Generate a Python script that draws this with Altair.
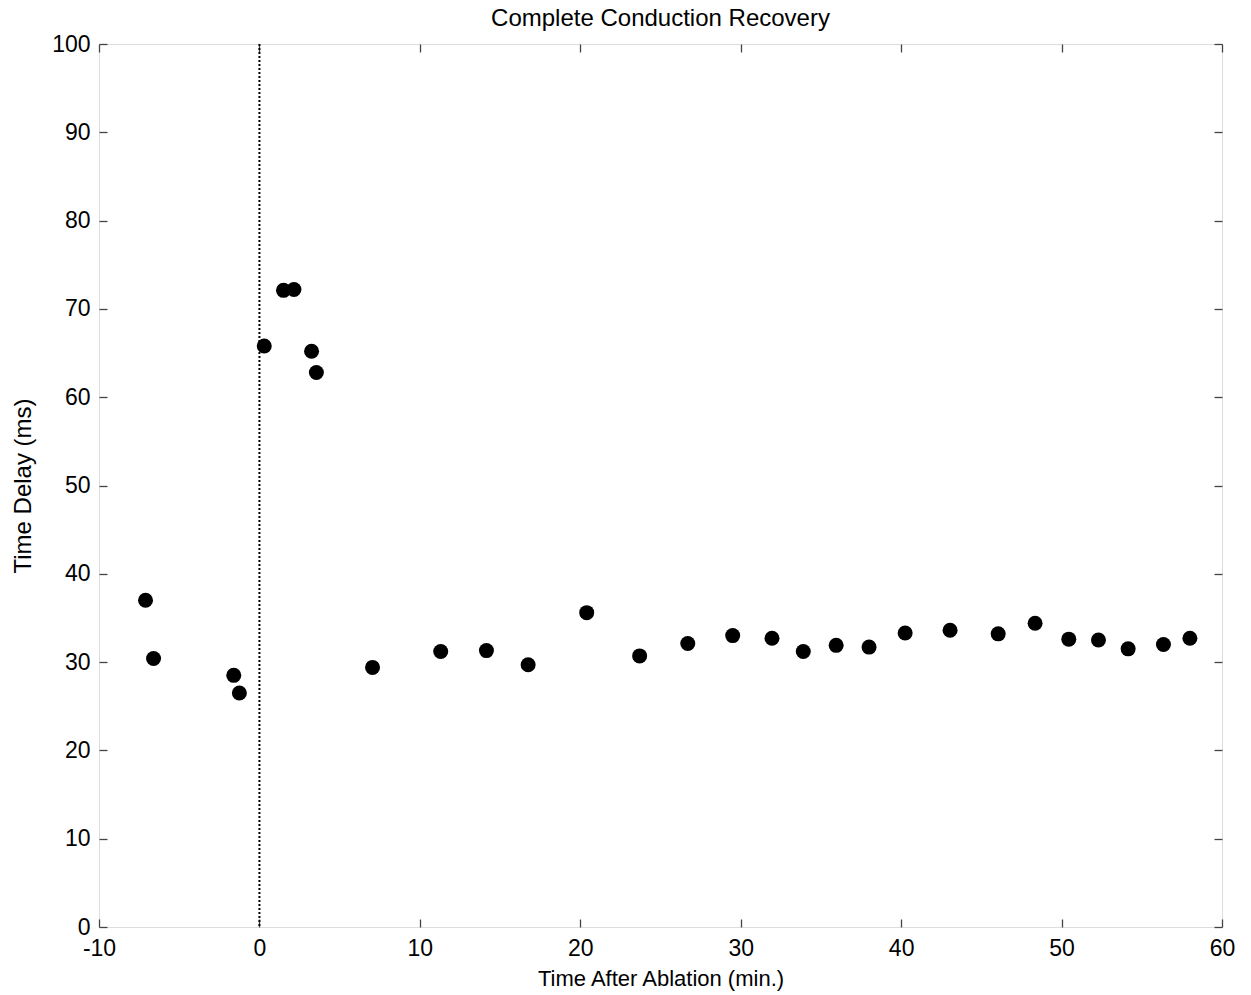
import altair as alt
import pandas as pd

time_min = [-7.1, -6.6, -1.6, -1.25, 0.3, 1.5, 2.15, 3.25, 3.55, 7.05, 11.3, 14.15, 16.75, 20.4,
            23.7, 26.7, 29.5, 31.95, 33.9, 35.95, 38.0, 40.25, 43.05, 46.05, 48.35, 50.45,
            52.3, 54.15, 56.35, 58.0]
delay_ms = [37.0, 30.4, 28.5, 26.5, 65.8, 72.1, 72.2, 65.2, 62.8, 29.4, 31.2, 31.3, 29.7, 35.6,
            30.7, 32.1, 33.0, 32.7, 31.2, 31.9, 31.7, 33.3, 33.6, 33.2, 34.4, 32.6,
            32.5, 31.5, 32.0, 32.7]
ablation_x = [0]
x_ticks = [-10, 0, 10, 20, 30, 40, 50, 60]
y_ticks = [0, 10, 20, 30, 40, 50, 60, 70, 80, 90, 100]

df = pd.DataFrame({"t": time_min, "d": delay_ms})
abl = pd.DataFrame({"x0": ablation_x})

FONT = "Liberation Sans"
xscale = alt.Scale(domain=[-10, 60], nice=False, zero=False)
yscale = alt.Scale(domain=[0, 100], nice=False, zero=False)

x_axis = alt.Axis(values=x_ticks, title="Time After Ablation (min.)", orient="bottom",
                  offset=-8, tickSize=8, domain=False, grid=False, labelPadding=10,
                  labelExpr="datum.value + ''",
                  tickColor="#444444", tickWidth=1.3, labelFont=FONT, labelFontSize=23,
                  labelColor="black", titleFont=FONT, titleFontSize=22, titleFontWeight="normal",
                  titleColor="black", titlePadding=8, labelFlush=False)
y_axis = alt.Axis(values=y_ticks, title="Time Delay (ms)", orient="left",
                  offset=-8, tickSize=8, domain=False, grid=False, labelPadding=9,
                  tickColor="#444444", tickWidth=1.3, labelFont=FONT, labelFontSize=23,
                  labelColor="black", titleFont=FONT, titleFontSize=24, titleFontWeight="normal",
                  titleColor="black", titlePadding=16, labelFlush=False)
x_axis_top = alt.Axis(values=x_ticks, title=None, orient="top", offset=-8, tickSize=8,
                      domain=False, grid=False, labels=False, tickColor="#444444", tickWidth=1.3)
y_axis_right = alt.Axis(values=y_ticks, title=None, orient="right", offset=-8, tickSize=8,
                        domain=False, grid=False, labels=False, tickColor="#444444", tickWidth=1.3)

points = alt.Chart(df).mark_circle(size=225, color="black", opacity=1).encode(
    x=alt.X("t:Q", scale=xscale, axis=x_axis),
    y=alt.Y("d:Q", scale=yscale, axis=y_axis),
)

ghost = alt.Chart(df).mark_circle(size=0, opacity=0).encode(
    x=alt.X("t:Q", scale=xscale, axis=x_axis_top),
    y=alt.Y("d:Q", scale=yscale, axis=y_axis_right),
)

vline = alt.Chart(abl).mark_rule(color="black", strokeDash=[2, 2], strokeWidth=2).encode(
    x=alt.X("x0:Q", scale=xscale, axis=None),
)

chart = alt.layer(vline, points, ghost).resolve_axis(x="independent", y="independent").properties(
    width=1123, height=883,
    title=alt.TitleParams("Complete Conduction Recovery", font=FONT, fontSize=24,
                          fontWeight="normal", color="black", offset=2),
    autosize=alt.AutoSizeParams(type="none"),
    padding={"left": 99, "top": 44, "right": 29, "bottom": 68},
).configure_view(stroke="#444444", strokeWidth=1.5).configure(background="white")

chart.save("out.html", embed_options={"renderer": "svg", "actions": False})
